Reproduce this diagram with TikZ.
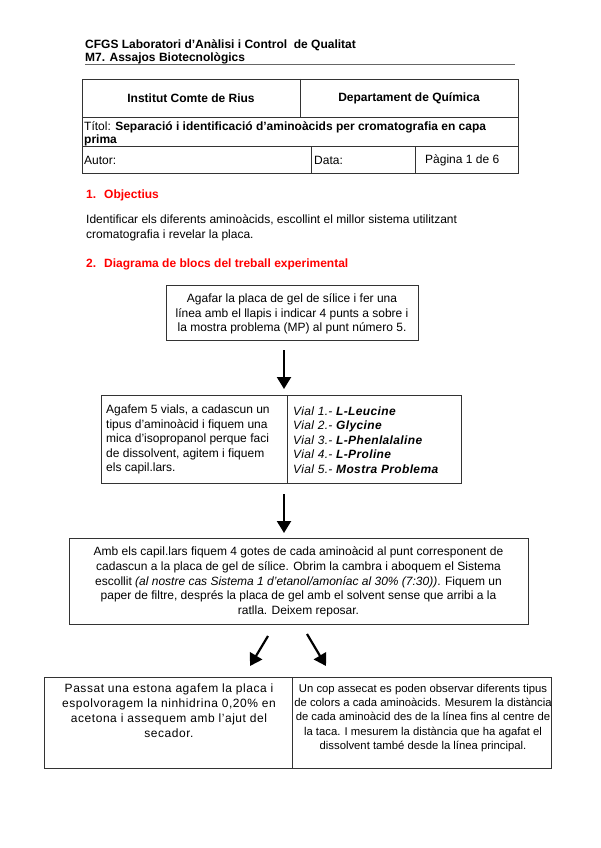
\documentclass[tikz,border=0pt]{standalone}
\usepackage{fontspec}
\setmainfont{Liberation Sans}
\newfontfamily\widefont[LetterSpace=4.5]{Liberation Sans}
\newfontfamily\vialfont[LetterSpace=3]{Liberation Sans}
\usetikzlibrary{arrows.meta}
\definecolor{headred}{RGB}{255,0,0}
\tikzset{
  frame/.style={draw=black!80, line width=0.8pt},
  txt/.style={inner sep=0pt, font=\fontsize{12}{14.6}\selectfont},
  cell/.style={inner sep=0pt, font=\fontsize{12}{13}\selectfont},
  heading/.style={inner sep=0pt, anchor=west, font=\fontsize{12}{13}\selectfont\bfseries, text=headred},
  bigarrow/.style={-{Triangle[length=12pt,width=14pt]}, line width=2.2pt}
}

\begin{document}
\begin{tikzpicture}[x=1pt,y=-1pt]
\useasboundingbox[fill=white] (0,0) rectangle (600,848);

% capcalera
\node[cell, anchor=north west, align=left, font=\fontsize{12}{13}\selectfont\bfseries] (head) at (85,39.5)
  {CFGS Laboratori d’Anàlisi i Control\ \ de Qualitat\\ M7. Assajos Biotecnològics};
\draw[black!60, line width=0.8pt] (85,64) -- (515,64);

% taula
\draw[frame] (82,79) rectangle (518,173);
\draw[frame] (82,117) -- (518,117);
\draw[frame] (82,146) -- (518,146);
\draw[frame] (300,79) -- (300,117);
\draw[frame] (311,146) -- (311,173);
\draw[frame] (415,146) -- (415,173);
\node[cell, font=\fontsize{12}{13}\selectfont\bfseries] (inst) at (191,98) {Institut Comte de Rius};
\node[cell, font=\fontsize{12}{13}\selectfont\bfseries] (dept) at (409,98) {Departament de Química};
\node[cell, anchor=north west, align=left] (titol) at (84,121)
  {Títol: \textbf{Separació i identificació d’aminoàcids per cromatografia en capa}\\ \textbf{prima}};
\node[cell, anchor=west] (autor) at (84,160) {Autor:};
\node[cell, anchor=west] (data) at (314,160) {Data:};
\node[cell, anchor=west] (pag) at (425,160) {Pàgina 1 de 6};

% apartats
\node[heading] (obj) at (86,195) {\makebox[18pt][l]{1.}Objectius};
\node[txt, anchor=north west, align=left] (objtext) at (86,214.5)
  {Identificar els diferents aminoàcids, escollint el millor sistema utilitzant\\ cromatografia i revelar la placa.};
\node[heading] (diag) at (86,264) {\makebox[18pt][l]{2.}Diagrama de blocs del treball experimental};

% pas 1
\draw[frame] (166,285) rectangle (418,340);
\node[txt, align=center] (pas1) at (292,314)
  {Agafar la placa de gel de sílice i fer una\\ línea amb el llapis i indicar 4 punts a sobre i\\ la mostra problema (MP) al punt número 5.};

% pas 2
\draw[frame] (101,395) rectangle (461,483);
\draw[frame] (287,395) -- (287,483);
\node[txt, anchor=west, align=left] (pas2) at (106,439.5)
  {Agafem 5 vials, a cadascun un\\ tipus d’aminoàcid i fiquem una\\ mica d’isopropanol perque faci\\ de dissolvent, agitem i fiquem\\ els capil.lars.};
\node[txt, anchor=west, align=left, font=\fontsize{12}{14.6}\vialfont] (vials) at (293,440)
  {\textit{Vial 1.- \textbf{L-Leucine}}\\ \textit{Vial 2.- \textbf{Glycine}}\\ \textit{Vial 3.- \textbf{L-Phenlalaline}}\\ \textit{Vial 4.- \textbf{L-Proline}}\\ \textit{Vial 5.- \textbf{Mostra Problema}}};

% pas 3
\draw[frame] (69,538) rectangle (528,624);
\node[txt, align=center] (pas3) at (298.5,582)
  {Amb els capil.lars fiquem 4 gotes de cada aminoàcid al punt corresponent de\\ cadascun a la placa de gel de sílice. Obrim la cambra i aboquem el Sistema\\ escollit \textit{(al nostre cas Sistema 1 d’etanol/amoníac al 30\% (7:30))}. Fiquem un\\ paper de filtre, després la placa de gel amb el solvent sense que arribi a la\\ ratlla. Deixem reposar.};

% pas 4
\draw[frame] (44,677) rectangle (551,768);
\draw[frame] (292,677) -- (292,768);
\node[txt, anchor=north, align=center, font=\fontsize{12}{14.8}\widefont] (pas4a) at (169,684)
  {Passat una estona agafem la placa i\\ espolvoragem la ninhidrina 0,20\% en\\ acetona i assequem amb l’ajut del\\ secador.};
\node[txt, anchor=north, align=center, font=\fontsize{11.3}{14.3}\selectfont] (pas4b) at (423,684)
  {Un cop assecat es poden observar diferents tipus\\ de colors a cada aminoàcids. Mesurem la distància\\ de cada aminoàcid des de la línea fins al centre de\\ la taca. I mesurem la distància que ha agafat el\\ dissolvent també desde la línea principal.};

% fletxes
\coordinate (f1a) at (284,350);
\coordinate (f1b) at (284,389);
\coordinate (f2a) at (284,494);
\coordinate (f2b) at (284,533);
\coordinate (f3a) at (268,636);
\coordinate (f3b) at (250,666);
\coordinate (f4a) at (307,634);
\coordinate (f4b) at (326,666);
\draw[bigarrow] (f1a) -- (f1b);
\draw[bigarrow] (f2a) -- (f2b);
\draw[bigarrow] (f3a) -- (f3b);
\draw[bigarrow] (f4a) -- (f4b);
\end{tikzpicture}
\end{document}
